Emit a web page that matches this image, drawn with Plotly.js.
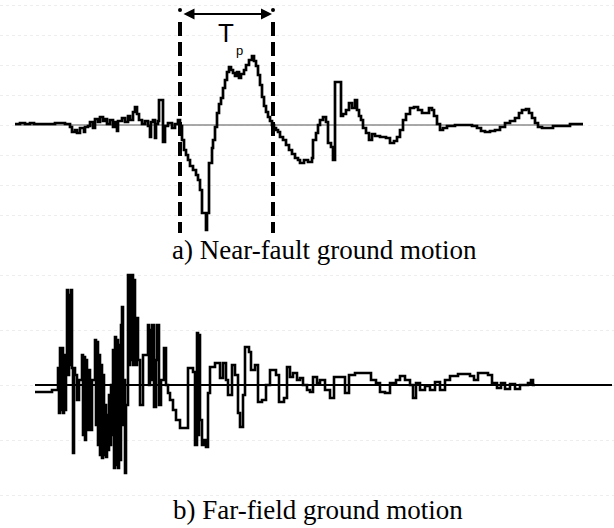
<!DOCTYPE html>
<html>
<head>
<meta charset="utf-8">
<script src="https://cdn.plot.ly/plotly-3.0.1.min.js"></script>
<style>
  html, body { margin: 0; padding: 0; background: #fff; }
  #chart { width: 614px; height: 528px; }
</style>
</head>
<body>
<div id="chart"></div>
<script>
// Near-fault record (velocity-type pulse), sample index and amplitude
const nearSample = [0,5,10,15,19,30,40,50,55,57,60,62,65,69,70,73,75,78,80,83,85,88,90,92,95,98,100,102,103,107,110,113,115,118,120,122,124,127,130,133,135,136,138,140,141,143,144,148,150,153,157,160,163,165,167,169,171,173,175,178,181,183,185,187,190,191,192,194,197,198,200,202,204,206,208,210,212,214,216,218,220,222,224,226,229,231,234,237,239,241,243,245,247,249,251,253,255,257,259,261,263,265,268,271,274,277,280,283,285,289,293,297,298,301,303,305,308,311,313,316,318,320,326,328,331,334,337,340,342,344,346,348,351,354,357,360,365,371,375,379,382,385,388,391,395,399,403,407,411,414,417,419,422,425,428,432,440,450,457,462,466,470,475,480,485,490,495,500,504,507,511,514,517,520,523,527,533,538,550,555,568];
const nearAmp = [1,2,1,2,1,1,2,1,-2,-7,-5,-8,-3,-7,-2,-1,3,-3,6,3,8,4,6,1,5,-2,3,-6,4,7,3,9,5,13,18,11,5,1,4,-1,-12,3,5,-13,1,4,25,-17,-1,2,-3,1,5,-1,-15,-25,-30,-35,-41,-45,-50,-55,-65,-88,-88,-105,-88,-38,-23,-15,-2,12,21,27,37,45,53,58,55,52,49,53,47,51,55,60,65,69,64,59,50,40,28,19,13,8,4,0,-3,-5,-7,-12,-15,-20,-25,-29,-33,-35,-38,-35,-37,-33,-15,-8,0,5,8,3,-18,-22,-35,43,9,11,15,22,17,25,15,9,5,-3,-8,-15,-9,-11,-12,-13,-18,-16,-12,-5,5,11,17,18,15,12,12,17,15,9,1,-5,-3,-1,0,0,-1,-3,-6,-7,-6,-5,-2,2,4,7,12,15,16,12,7,2,-2,-3,-3,-1,-1,1,1];

// Pulse period bounds (sample index)
const pulseStart = 165;
const pulseEnd = 258;

// Far-field record, sample index and amplitude
const farSample = [0,17,23,24,25,26,27,28,29,30,31,32,33,34,35,36,37,38,39,40,42,44,47,48,49,50,51,52,53,55,57,
  60,61,62,63,64,65,66,67,68,69,70,71,72,73,74,75,76,77,78,79,80,81,82,83,84,85,86,87,88,89,90,91,
  93,94,95,96,97,98,99,100,101,102,103,105,108,113,114,115,116,117,119,121,122,124,126,129,131,133,
  135,138,141,145,148,153,158,160,162,163,164,165,167,169,171,173,
  175,180,185,188,191,193,197,200,203,205,208,210,214,216,220,223,227,231,235,241,244,249,252,255,258,262,265,268,272,275,278,282,285,290,295,299,310,314,320,330,336,341,345,350,355,361,365,370,375,378,381,385,390,395,400,405,410,415,423,430,435,439,443,453,457,462,466,470,475,480,485,493,496,498,500];
const farAmp = [-7,-5,17,-28,37,-25,37,-28,30,-25,17,95,10,90,20,95,17,-68,17,10,-15,5,30,-50,28,-55,25,-45,15,-45,5,
  45,-40,43,-60,30,-70,20,-73,10,-70,-20,-72,-30,-65,-10,-60,0,-50,35,-83,48,-80,45,-83,40,-75,60,78,-40,5,-88,-20,
  110,20,110,25,110,20,105,65,20,67,25,-20,30,60,0,55,5,60,-22,25,60,-20,5,37,0,-8,
  -15,-25,-35,-43,-43,17,13,-60,52,-50,50,-35,-60,-55,-62,-8,
  18,22,7,22,5,-10,20,10,-28,-42,-10,38,33,15,20,-17,-15,0,15,10,-17,-13,18,8,12,5,7,0,-5,-7,8,2,5,-5,-13,8,-8,10,12,12,5,2,-7,-8,2,5,9,5,0,-13,2,-5,-1,-5,3,-5,5,9,11,11,9,5,12,10,2,-3,2,-4,1,-4,0,2,5,0,0];
const farBaselineEnd = 577;

const captionA = "a) Near-fault ground motion";
const captionB = "b) Far-field ground motion";

const black = "#000000";

const traces = [
  { x: [0, nearSample[nearSample.length - 1]], y: [0, 0], mode: "lines",
    line: { color: "#8c8c8c", width: 1.6 }, xaxis: "x", yaxis: "y", hoverinfo: "skip" },
  { x: nearSample, y: nearAmp, mode: "lines",
    line: { color: black, width: 2.7, shape: "hv" }, xaxis: "x", yaxis: "y" },
  { x: [pulseStart, pulseEnd], y: [115, 115], mode: "markers",
    marker: { color: black, size: 4 }, xaxis: "x", yaxis: "y" },
  { x: [0, farBaselineEnd], y: [0, 0], mode: "lines",
    line: { color: black, width: 2.2 }, xaxis: "x2", yaxis: "y2", hoverinfo: "skip" },
  { x: farSample, y: farAmp, mode: "lines",
    line: { color: black, width: 2.6, shape: "hv" }, xaxis: "x2", yaxis: "y2" }
];

const hiddenX = { showgrid: false, zeroline: false, showline: false, showticklabels: false, ticks: "" };
const gridY = { showgrid: true, griddash: "dot", gridcolor: "#ededed", gridwidth: 1,
  zeroline: false, showline: false, showticklabels: false, ticks: "" };

const pulseLine = (xv) => ({
  type: "line", xref: "x", yref: "y", x0: xv, x1: xv, y0: 103, y1: -108,
  line: { color: black, width: 4, dash: "14px,6px" }
});

const layout = {
  width: 614, height: 528,
  margin: { l: 0, r: 0, t: 0, b: 0, pad: 0 },
  paper_bgcolor: "#ffffff", plot_bgcolor: "#ffffff",
  showlegend: false,
  xaxis: Object.assign({ domain: [0, 1], range: [-15, 599], anchor: "y" }, hiddenX),
  yaxis: Object.assign({ domain: [1 - 240 / 528, 1], range: [-115, 125], dtick: 30, anchor: "x" }, gridY),
  xaxis2: Object.assign({ domain: [0, 1], range: [-35, 579], anchor: "y2" }, hiddenX),
  yaxis2: Object.assign({ domain: [0, 268 / 528], range: [-143, 125], dtick: 55, anchor: "x2" }, gridY),
  shapes: [pulseLine(pulseStart), pulseLine(pulseEnd)],
  annotations: [
    { xref: "x", yref: "y", x: pulseEnd - 1, y: 111, ax: pulseStart + 2, ay: 111,
      axref: "x", ayref: "y", text: "", showarrow: true, arrowside: "end+start",
      arrowhead: 2, startarrowhead: 2, arrowwidth: 2, arrowsize: 1.1, startarrowsize: 1.1,
      arrowcolor: black },
    { xref: "x", yref: "y", x: 211, y: 92, text: "T", showarrow: false,
      font: { family: "Liberation Sans, Arial, sans-serif", size: 26, color: black } },
    { xref: "x", yref: "y", x: 224, y: 75, text: "p", showarrow: false,
      font: { family: "Liberation Sans, Arial, sans-serif", size: 13, color: black } },
    { xref: "paper", yref: "paper", x: 324 / 614, y: 1 - 250 / 528, text: captionA,
      showarrow: false, xanchor: "center", yanchor: "middle",
      font: { family: "Liberation Serif, Times New Roman, serif", size: 27, color: black } },
    { xref: "paper", yref: "paper", x: 318 / 614, y: 1 - 510 / 528, text: captionB,
      showarrow: false, xanchor: "center", yanchor: "middle",
      font: { family: "Liberation Serif, Times New Roman, serif", size: 27, color: black } }
  ]
};

Plotly.newPlot("chart", traces, layout, { staticPlot: true, displayModeBar: false });
</script>
</body>
</html>
